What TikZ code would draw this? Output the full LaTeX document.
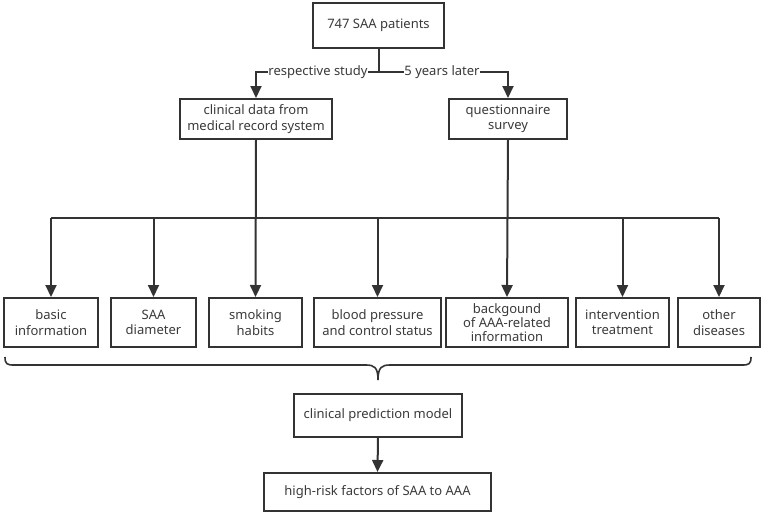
\documentclass[tikz,border=0pt]{standalone}
\usepackage{fontspec}
\setmainfont{Noto Sans}
\usetikzlibrary{arrows.meta}
\definecolor{lncol}{HTML}{333333}
\definecolor{tx}{HTML}{3A3A3A}
\begin{document}
\begin{tikzpicture}[x=1pt,y=-1pt,
  box/.style={draw=lncol,line width=2pt,align=center,inner sep=2pt,font=\fontsize{13}{15.5}\selectfont,text=tx},
  arr/.style={draw=lncol,line width=2pt,-{Triangle[length=12pt,width=11pt]}},
  plain/.style={draw=lncol,line width=2pt},
  lbl/.style={fill=white,inner sep=0.5pt,font=\fontsize{13}{14}\selectfont,text=tx}]
\useasboundingbox (0,0) rectangle (764,515);
\node[box,minimum width=131pt,minimum height=45pt] (top) at (378.5,25.5) {747 SAA patients};
\node[box,minimum width=152pt,minimum height=40pt] (clin) at (256,119) {clinical data from\\medical record system};
\node[box,minimum width=118pt,minimum height=40pt] (quest) at (508,119) {questionnaire\\survey};
\node[box,minimum width=94pt,minimum height=49pt] (b1) at (51,322.5) {basic\\information};
\node[box,minimum width=85pt,minimum height=49pt] (b2) at (153.5,322.5) {SAA\\diameter};
\node[box,minimum width=93pt,minimum height=49pt] (b3) at (255.5,322.5) {smoking\\habits};
\node[box,minimum width=127pt,minimum height=49pt] (b4) at (377.5,322.5) {blood pressure\\and control status};
\node[box,minimum width=122pt,minimum height=49pt,font=\fontsize{13}{14}\selectfont,inner sep=0pt] (b5) at (507,322.5) {backgound\\of AAA-related\\information};
\node[box,minimum width=93pt,minimum height=49pt] (b6) at (622.5,322.5) {intervention\\treatment};
\node[box,minimum width=82pt,minimum height=49pt] (b7) at (719,322.5) {other\\diseases};
\node[box,minimum width=168pt,minimum height=43pt] (model) at (378,415.5) {clinical prediction model};
\node[box,minimum width=227pt,minimum height=38pt] (risk) at (377.5,492) {high-risk factors of SAA to AAA};
% top split
\coordinate (jn) at (378.5,72);
\draw[plain] (top.south) -- (jn);
\draw[arr] (jn) -| (clin.north);
\draw[arr] (jn) -| (quest.north);
\node[lbl] (l1) at (318,72) {respective study};
\node[lbl] (l2) at (442,72) {5 years later};
% bus
\coordinate (busl) at (51,218);
\coordinate (busr) at (719,218);
\coordinate (j2) at (153.5,218);
\coordinate (j4) at (377.5,218);
\coordinate (j6) at (622.5,218);
\draw[plain] (busl) -- (busr);
\draw[arr] (clin.south) -- (b3.north);
\draw[arr] (quest.south) -- (b5.north);
\draw[arr] (busl) -- (b1.north);
\draw[arr] (j2) -- (b2.north);
\draw[arr] (j4) -- (b4.north);
\draw[arr] (j6) -- (b6.north);
\draw[arr] (busr) -- (b7.north);
% brace
\coordinate (bt) at (378,380);
\draw[draw=lncol,line width=1.6pt] (5,357) .. controls (5,364) and (7,365) .. (14,365) -- (366,365)
  .. controls (374,365) and (378,367) .. (bt)
  .. controls (378,367) and (382,365) .. (390,365) -- (742,365)
  .. controls (749,365) and (751,364) .. (751,357);
\draw[arr] (model.south) -- (risk.north);
\end{tikzpicture}
\end{document}
